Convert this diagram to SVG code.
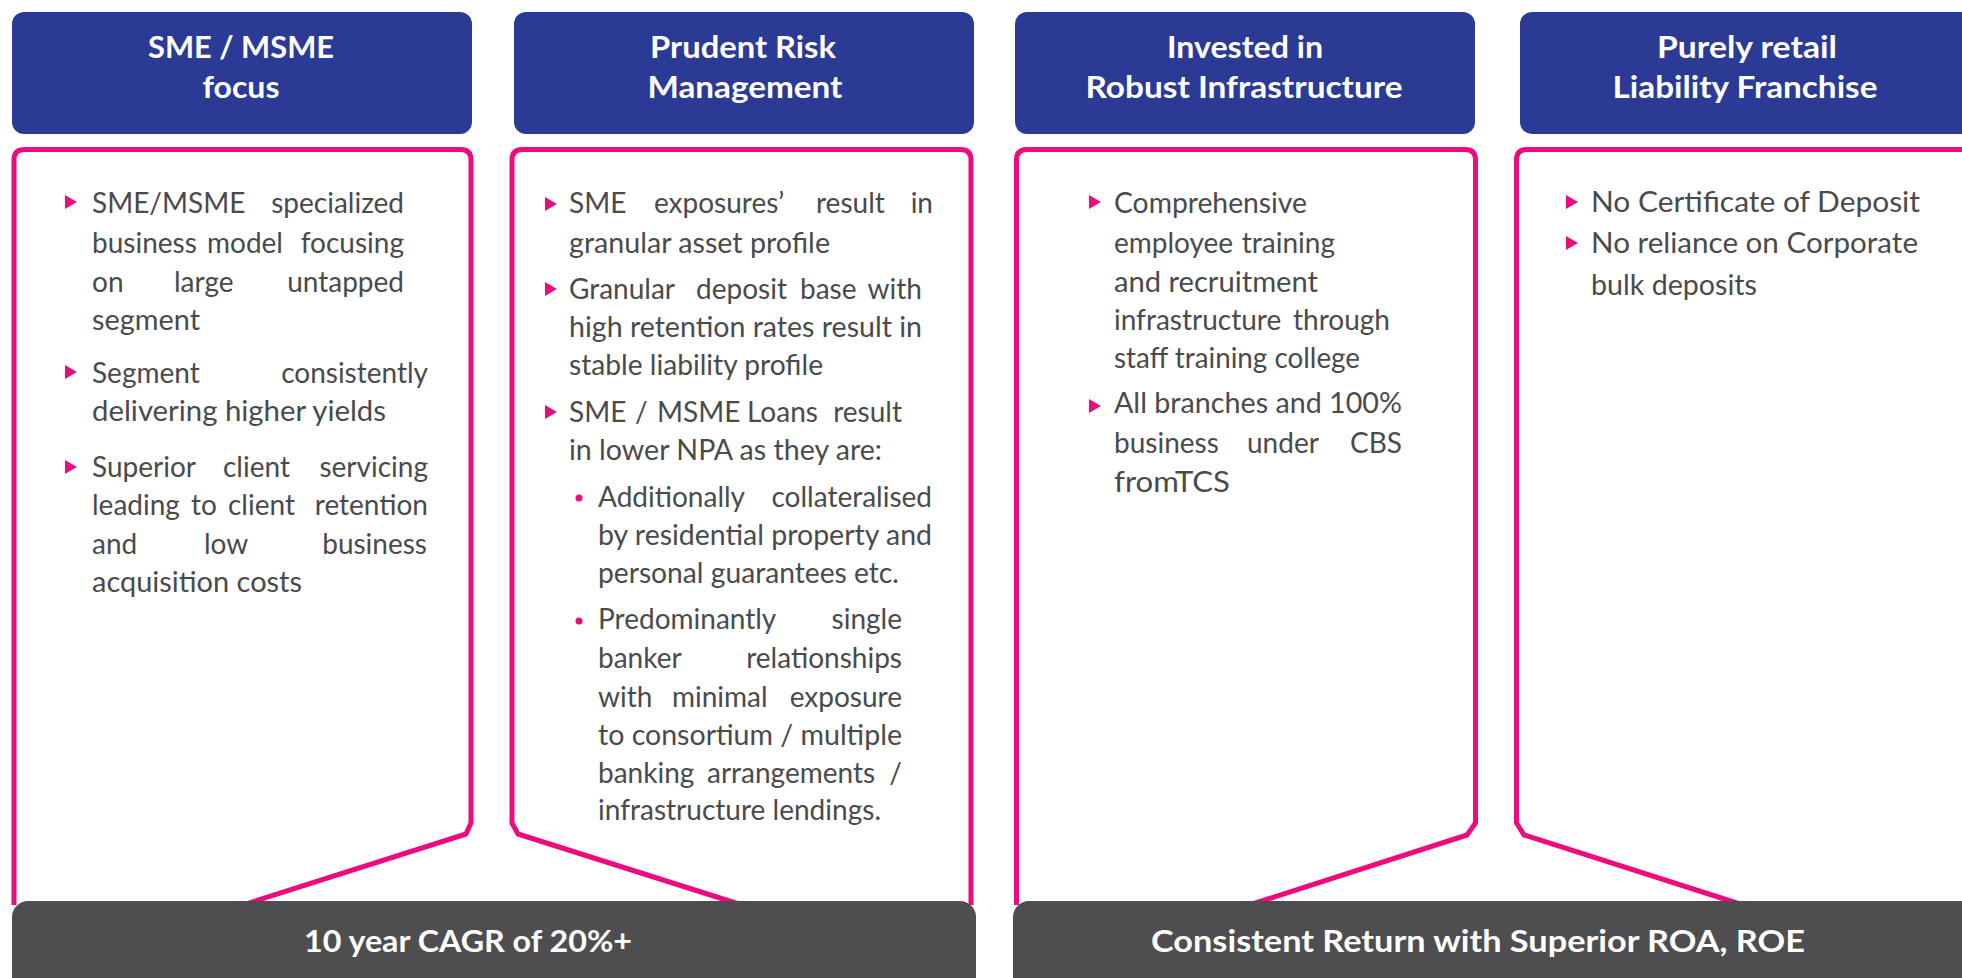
<svg xmlns="http://www.w3.org/2000/svg" xmlns:xlink="http://www.w3.org/1999/xlink" width="1962" height="978" viewBox="0 0 1962 978">
<defs>
<style>
.hdr{fill:#2B3A95}
.bar{fill:#4E4E50}
.h{font-family:Lato,"Open Sans","Liberation Sans",sans-serif;font-weight:700;font-size:31px;fill:#FFFFFF;text-anchor:middle}
.f{font-family:Lato,"Open Sans","Liberation Sans",sans-serif;font-weight:700;font-size:30px;fill:#FFFFFF;text-anchor:middle}
.b{font-family:Lato,"Open Sans","Liberation Sans",sans-serif;font-weight:400;font-size:28px;fill:#4A4A4C}
.e{text-anchor:end}
.pk{fill:none;stroke:#EC0C7E;stroke-width:5;stroke-linejoin:round}
.tri{fill:#EC0C7E}
</style>
<path id="tri" d="M0,-7 L12,0 L0,7Z"/>
</defs>
<rect width="1962" height="978" fill="#FFFFFF"/>

<g id="connectors">
<path class="pk" d="M14,905 V160 Q14,149.5 24.5,149.5 H460.5 Q471,149.5 471,160 V823 L466,834 L243,905"/>
<path class="pk" d="M742,905 L518,834 L512,823 V160 Q512,149.5 522.5,149.5 H960.5 Q971,149.5 971,160 V905"/>
<path class="pk" d="M1016.5,905 V160 Q1016.5,149.5 1027,149.5 H1465 Q1475.5,149.5 1475.5,160 V823 L1467,835 L1249,905"/>
<path class="pk" d="M1743,905 L1524,835 L1516.5,823 V160 Q1516.5,149.5 1527,149.5 H1990 V905"/>
</g>

<g id="node-sme">
<rect class="hdr" x="12" y="12" width="460" height="122" rx="12"/>
<text class="h" x="241" y="58" textLength="186" lengthAdjust="spacingAndGlyphs">SME / MSME</text>
<text class="h" x="241" y="98" textLength="77" lengthAdjust="spacingAndGlyphs">focus</text>
<use href="#tri" class="tri" x="65" y="202"/>
<text class="b" y="213"><tspan x="92">SME/MSME</tspan><tspan class="e" x="404">specialized</tspan></text>
<text class="b" y="253"><tspan x="92">business</tspan><tspan x="207">model</tspan><tspan class="e" x="404">focusing</tspan></text>
<text class="b" y="292"><tspan x="92">on</tspan><tspan x="174">large</tspan><tspan class="e" x="404">untapped</tspan></text>
<text class="b" x="92" y="330" textLength="108" lengthAdjust="spacingAndGlyphs">segment</text>
<use href="#tri" class="tri" x="65" y="372"/>
<text class="b" y="383"><tspan x="92">Segment</tspan><tspan class="e" x="428">consistently</tspan></text>
<text class="b" x="92" y="421" textLength="294" lengthAdjust="spacingAndGlyphs">delivering higher yields</text>
<use href="#tri" class="tri" x="65" y="467"/>
<text class="b" y="477"><tspan x="92">Superior</tspan><tspan x="223">client</tspan><tspan class="e" x="428">servicing</tspan></text>
<text class="b" y="515"><tspan x="92">leading</tspan><tspan x="191">to</tspan><tspan x="228">client</tspan><tspan class="e" x="428">retention</tspan></text>
<text class="b" y="554"><tspan x="92">and</tspan><tspan x="204">low</tspan><tspan class="e" x="427">business</tspan></text>
<text class="b" x="92" y="592" textLength="210" lengthAdjust="spacingAndGlyphs">acquisition costs</text>
</g>

<g id="node-risk">
<rect class="hdr" x="514" y="12" width="460" height="122" rx="12"/>
<text class="h" x="743" y="58" textLength="186" lengthAdjust="spacingAndGlyphs">Prudent Risk</text>
<text class="h" x="745" y="98" textLength="195" lengthAdjust="spacingAndGlyphs">Management</text>
<use href="#tri" class="tri" x="545" y="204"/>
<text class="b" y="213"><tspan x="569">SME</tspan><tspan x="654">exposures’</tspan><tspan x="816">result</tspan><tspan class="e" x="933">in</tspan></text>
<text class="b" x="569" y="253" textLength="261" lengthAdjust="spacingAndGlyphs">granular asset profile</text>
<use href="#tri" class="tri" x="545" y="289"/>
<text class="b" y="299"><tspan x="569">Granular</tspan><tspan x="696">deposit</tspan><tspan x="800">base</tspan><tspan class="e" x="922">with</tspan></text>
<text class="b" x="569" y="337" textLength="353" lengthAdjust="spacingAndGlyphs">high retention rates result in</text>
<text class="b" x="569" y="375" textLength="254" lengthAdjust="spacingAndGlyphs">stable liability profile</text>
<use href="#tri" class="tri" x="545" y="412"/>
<text class="b" y="422"><tspan x="569">SME</tspan><tspan x="635">/</tspan><tspan x="657">MSME</tspan><tspan x="747">Loans</tspan><tspan class="e" x="902">result</tspan></text>
<text class="b" x="569" y="460" textLength="313" lengthAdjust="spacingAndGlyphs">in lower NPA as they are:</text>
<circle class="tri" cx="579" cy="498" r="3.5"/>
<text class="b" y="507"><tspan x="598">Additionally</tspan><tspan class="e" x="932">collateralised</tspan></text>
<text class="b" x="598" y="545" textLength="334" lengthAdjust="spacingAndGlyphs">by residential property and</text>
<text class="b" x="598" y="583" textLength="301" lengthAdjust="spacingAndGlyphs">personal guarantees etc.</text>
<circle class="tri" cx="579" cy="621" r="3.5"/>
<text class="b" y="629"><tspan x="598">Predominantly</tspan><tspan class="e" x="902">single</tspan></text>
<text class="b" y="668"><tspan x="598">banker</tspan><tspan class="e" x="902">relationships</tspan></text>
<text class="b" y="707"><tspan x="598">with</tspan><tspan x="672">minimal</tspan><tspan class="e" x="902">exposure</tspan></text>
<text class="b" x="598" y="745" textLength="304" lengthAdjust="spacingAndGlyphs">to consortium / multiple</text>
<text class="b" y="783"><tspan x="598">banking</tspan><tspan x="707">arrangements</tspan><tspan class="e" x="902">/</tspan></text>
<text class="b" x="598" y="820" textLength="283" lengthAdjust="spacingAndGlyphs">infrastructure lendings.</text>
</g>

<g id="node-infra">
<rect class="hdr" x="1015" y="12" width="460" height="122" rx="12"/>
<text class="h" x="1245" y="58" textLength="156" lengthAdjust="spacingAndGlyphs">Invested in</text>
<text class="h" x="1244" y="98" textLength="317" lengthAdjust="spacingAndGlyphs">Robust Infrastructure</text>
<use href="#tri" class="tri" x="1089" y="202"/>
<text class="b" x="1114" y="213" textLength="193" lengthAdjust="spacingAndGlyphs">Comprehensive</text>
<text class="b" y="253"><tspan x="1114">employee</tspan><tspan class="e" x="1335">training</tspan></text>
<text class="b" x="1114" y="292" textLength="204" lengthAdjust="spacingAndGlyphs">and recruitment</text>
<text class="b" y="330"><tspan x="1114">infrastructure</tspan><tspan class="e" x="1390">through</tspan></text>
<text class="b" x="1114" y="368" textLength="246" lengthAdjust="spacingAndGlyphs">staff training college</text>
<use href="#tri" class="tri" x="1089" y="406"/>
<text class="b" x="1114" y="413" textLength="288" lengthAdjust="spacingAndGlyphs">All branches and 100%</text>
<text class="b" y="453"><tspan x="1114">business</tspan><tspan x="1247">under</tspan><tspan class="e" x="1402">CBS</tspan></text>
<text class="b" x="1114" y="492" textLength="116" lengthAdjust="spacingAndGlyphs">fromTCS</text>
</g>

<g id="node-retail">
<rect class="hdr" x="1520" y="12" width="460" height="122" rx="12"/>
<text class="h" x="1747" y="58" textLength="180" lengthAdjust="spacingAndGlyphs">Purely retail</text>
<text class="h" x="1745" y="98" textLength="265" lengthAdjust="spacingAndGlyphs">Liability Franchise</text>
<use href="#tri" class="tri" x="1566" y="202"/>
<text class="b" x="1591" y="212" textLength="329" lengthAdjust="spacingAndGlyphs">No Certificate of Deposit</text>
<use href="#tri" class="tri" x="1566" y="243"/>
<text class="b" x="1591" y="253" textLength="327" lengthAdjust="spacingAndGlyphs">No reliance on Corporate</text>
<text class="b" x="1591" y="295" textLength="166" lengthAdjust="spacingAndGlyphs">bulk deposits</text>
</g>

<g id="node-cagr">
<rect class="bar" x="12" y="901" width="964" height="110" rx="16"/>
<text class="f" x="468" y="952" textLength="328" lengthAdjust="spacingAndGlyphs">10 year CAGR of 20%+</text>
</g>

<g id="node-return">
<rect class="bar" x="1013" y="901" width="1000" height="110" rx="16"/>
<text class="f" x="1478" y="952" textLength="654" lengthAdjust="spacingAndGlyphs">Consistent Return with Superior ROA, ROE</text>
</g>
</svg>
